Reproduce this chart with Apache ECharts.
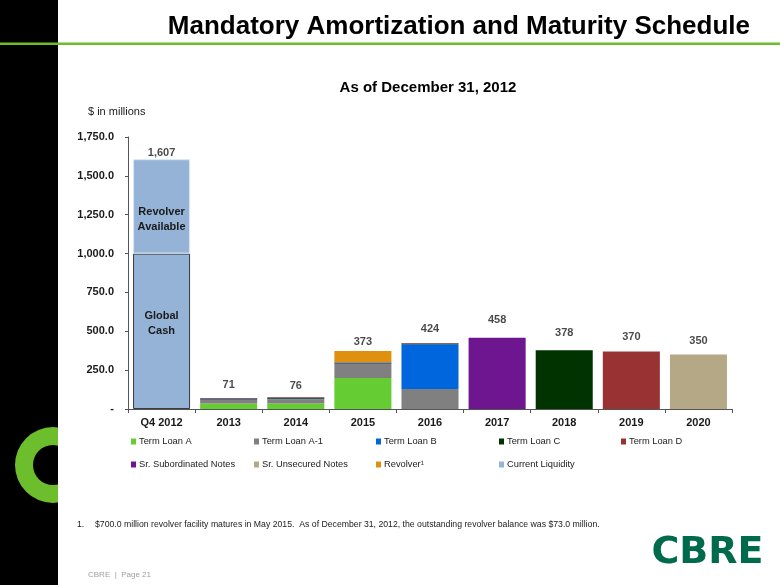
<!DOCTYPE html>
<html>
<head>
<meta charset="utf-8">
<script src="https://cdn.jsdelivr.net/npm/echarts@6/dist/echarts.min.js"></script>
<style>
html,body{margin:0;padding:0;background:#fff;}
#chart{width:780px;height:585px;}
</style>
</head>
<body>
<div id="chart"></div>
<script>
// ---- data ($ in millions) ----
const categories = ['Q4 2012', '2013', '2014', '2015', '2016', '2017', '2018', '2019', '2020'];
const termLoanA      = [null, 35, 35, 200, null, null, null, null, null];
const termLoanA1     = [null, 23, 27, 90, 129, null, null, null, null];
const termLoanB      = [null, 4, 4, 4, 288, null, null, null, null];
const termLoanC      = [null, 4, 4, 4, 4, null, 378, null, null];
const termLoanD      = [null, 5, 6, 2, 3, null, null, 370, null];
const srSubNotes     = [null, null, null, null, null, 458, null, null, null];
const srUnsecNotes   = [null, null, null, null, null, null, null, null, 350];
const revolver       = [null, null, null, 73, null, null, null, null, null];
const globalCash     = [1000, null, null, null, null, null, null, null, null];
const revolverAvail  = [607, null, null, null, null, null, null, null, null];
const totals         = [1607, 71, 76, 373, 424, 458, 378, 370, 350];
const yTicks = { min: 0, max: 1750, interval: 250 };

// ---- styling ----
const colors = {
  'Term Loan A': '#66CC33',
  'Term Loan A-1': '#808080',
  'Term Loan B': '#0066DD',
  'Term Loan C': '#003300',
  'Term Loan D': '#993333',
  'Sr. Subordinated Notes': '#6E1690',
  'Sr. Unsecured Notes': '#B5A886',
  'Revolver': '#E0900F',
  'Current Liquidity': '#95B3D7'
};
const totalLabelGap = [1, 7, 6, 4, 9, 12, 12, 9, 8];
const FONT = 'Liberation Sans, Arial, sans-serif';

function bar(name, data, extra) {
  return Object.assign({
    name: name, type: 'bar', stack: 'total', data: data,
    barCategoryGap: '15%',
    itemStyle: { color: colors[name] },
    emphasis: { disabled: true }
  }, extra || {});
}

const insideLabel = { show: true, position: 'inside', fontFamily: FONT, fontWeight: 'bold',
                      fontSize: 11, lineHeight: 15, color: '#1a1a1a' };

const series = [
  bar('Term Loan A', termLoanA),
  bar('Term Loan A-1', termLoanA1),
  bar('Term Loan B', termLoanB),
  bar('Term Loan C', termLoanC),
  bar('Term Loan D', termLoanD),
  bar('Sr. Subordinated Notes', srSubNotes),
  bar('Sr. Unsecured Notes', srUnsecNotes),
  bar('Revolver', revolver),
  bar('Current Liquidity', globalCash.map((v, i) => i === 0 && v != null ? {
      value: v, label: Object.assign({ formatter: 'Global\nCash', offset: [0, -8] }, insideLabel)
    } : v), { itemStyle: { color: colors['Current Liquidity'], borderColor: '#3a3a3a', borderWidth: 1 } }),
  bar('Current Liquidity', revolverAvail.map((v, i) => i === 0 && v != null ? {
      value: v, label: Object.assign({ formatter: 'Revolver\nAvailable', offset: [0, 13] }, insideLabel)
    } : v), { itemStyle: { color: colors['Current Liquidity'], borderColor: '#dce6f2', borderWidth: 1 } }),
  {
    name: 'totals', type: 'scatter', symbolSize: 0, silent: true,
    data: totals.map((v, i) => ({ value: v, label: { distance: totalLabelGap[i] } })),
    label: {
      show: true, position: 'top', color: '#1a1a1a', fontFamily: FONT, fontWeight: 'bold', fontSize: 11,
      formatter: p => p.value.toLocaleString('en-US')
    },
    z: 5
  }
];

// legend: 2 rows x 5 columns, one legend component per item
const legendRows = [
  ['Term Loan A', 'Term Loan A-1', 'Term Loan B', 'Term Loan C', 'Term Loan D'],
  ['Sr. Subordinated Notes', 'Sr. Unsecured Notes', 'Revolver', 'Current Liquidity']
];
const legendColX = [131, 254, 376, 499, 621];
const legendRowY = [443, 466];
const legends = [];
legendRows.forEach((row, r) => row.forEach((name, c) => {
  legends.push({
    data: [name], left: legendColX[c], top: legendRowY[r] - 6, padding: 0,
    itemWidth: 5, itemHeight: 6, icon: 'rect', selectedMode: false,
    itemStyle: { borderWidth: 0 },
    formatter: n => n === 'Revolver' ? 'Revolver\u00B9' : n,
    textStyle: { fontFamily: FONT, fontSize: 9.3, color: '#1a1a1a', padding: [0, 0, 0, -2] }
  });
}));

const chart = echarts.init(document.getElementById('chart'), null, { renderer: 'canvas' });
chart.setOption({
  animation: false,
  backgroundColor: '#ffffff',
  grid: { left: 128, right: 48, top: 137, bottom: 176, containLabel: false },
  legend: legends,
  xAxis: {
    type: 'category', data: categories,
    axisLine: { show: true, lineStyle: { color: '#555555', width: 1 } },
    axisTick: { show: true, length: 4, interval: 0, lineStyle: { color: '#555555' } },
    axisLabel: { fontFamily: FONT, fontWeight: 'bold', fontSize: 11, color: '#1a1a1a', margin: 8, interval: 0 }
  },
  yAxis: {
    type: 'value', min: yTicks.min, max: yTicks.max, interval: yTicks.interval,
    axisLine: { show: true, lineStyle: { color: '#555555', width: 1 } },
    axisTick: { show: true, length: 3, lineStyle: { color: '#555555' } },
    splitLine: { show: false },
    axisLabel: {
      fontFamily: FONT, fontWeight: 'bold', fontSize: 11, color: '#1a1a1a', margin: 14,
      formatter: v => v === 0 ? '-' : v.toLocaleString('en-US', { minimumFractionDigits: 1, maximumFractionDigits: 1 })
    }
  },
  series: series,
  graphic: [
    { type: 'rect', z: 0, shape: { x: 0, y: 0, width: 58, height: 585 }, style: { fill: '#000000' } },
    { type: 'ring', z: 1, shape: { cx: 53, cy: 465, r: 38, r0: 20 }, style: { fill: '#6CBE2D' } },
    { type: 'rect', z: 2, shape: { x: 58, y: 420, width: 40, height: 95 }, style: { fill: '#ffffff' } },
    { type: 'rect', z: 3, shape: { x: 0, y: 42.5, width: 780, height: 2.5 }, style: { fill: '#6CBE2D' } },
    { type: 'text', z: 3, x: 750, y: 27, style: {
        text: 'Mandatory Amortization and Maturity Schedule', fill: '#000000',
        font: 'bold 26px ' + FONT, textAlign: 'right', textVerticalAlign: 'middle' } },
    { type: 'text', z: 3, x: 428, y: 88, style: {
        text: 'As of December 31, 2012', fill: '#000000',
        font: 'bold 15px ' + FONT, textAlign: 'center', textVerticalAlign: 'middle' } },
    { type: 'text', z: 3, x: 88, y: 112, style: {
        text: '$ in millions', fill: '#1a1a1a',
        font: '11px ' + FONT, textAlign: 'left', textVerticalAlign: 'middle' } },
    { type: 'text', z: 3, x: 77, y: 525, style: {
        text: '1.', fill: '#1a1a1a', font: '8.7px ' + FONT, textAlign: 'left', textVerticalAlign: 'middle' } },
    { type: 'text', z: 3, x: 95, y: 525, style: {
        text: '$700.0 million revolver facility matures in May 2015.  As of December 31, 2012, the outstanding revolver balance was $73.0 million.',
        fill: '#1a1a1a', font: '8.7px ' + FONT, textAlign: 'left', textVerticalAlign: 'middle' } },
    { type: 'text', z: 3, x: 88, y: 575, style: {
        text: 'CBRE  |  Page 21', fill: '#a0a0a0', font: '8px ' + FONT, textAlign: 'left', textVerticalAlign: 'middle' } },
    { type: 'text', z: 3, x: 707.5, y: 553, style: {
        text: 'CBRE', fill: '#006A4D', font: 'bold 38px DejaVu Sans, sans-serif',
        textAlign: 'center', textVerticalAlign: 'middle' } }
  ]
});
</script>
</body>
</html>
